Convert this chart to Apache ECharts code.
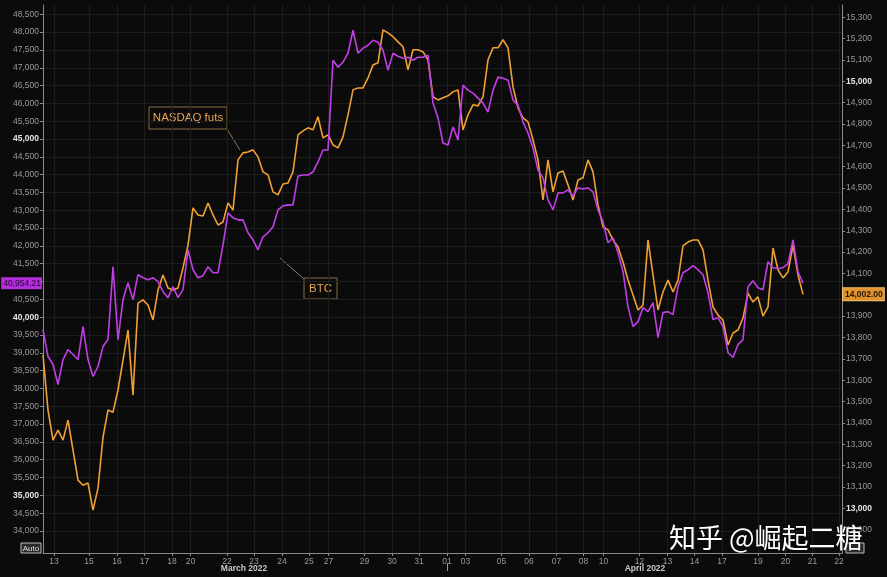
<!DOCTYPE html>
<html>
<head>
<meta charset="utf-8">
<script src="https://cdn.jsdelivr.net/npm/echarts@6/dist/echarts.min.js"></script>
<style>
  html, body { margin: 0; padding: 0; background: #0b0b0b; }
  #chart { width: 887px; height: 577px; }
</style>
</head>
<body>
<div id="chart"></div>
<script>
// ---- data (x = sample index, evenly spaced along the trading-time axis) ----
const btc = [39652,38896,38672,38112,38812,39092,38952,38812,39736,38812,38336,38616,39176,39372,41416,39372,40492,40968,40492,41192,
41108,41052,41108,40996,40716,40548,40856,40548,40772,41892,41332,41108,41164,41416,41248,41248,42032,42928,42788,42732,
42732,42368,42172,41892,42256,42368,42536,43012,43124,43152,43152,43964,43992,43992,44076,44356,44692,44692,47212,47016,
47156,47408,48052,47408,47548,47632,47772,47716,47492,46932,47408,47324,47268,47296,47212,47296,47296,47352,46008,45588,
44888,44832,45336,44972,46512,46372,46288,46148,46008,45756,46372,46736,46708,46652,46092,45952,45476,45168,44748,44132,
43908,43292,43012,43488,43488,43572,43404,43628,43600,43628,43516,43012,42676,42088,42228,41808,41276,40296,39736,39876,
40268,40156,40408,39428,40128,40156,40072,40856,41248,41332,41444,41332,41192,40688,39932,39988,39736,39008,38868,39232,
39372,40856,41024,40828,40772,41556,41388,41360,41388,41500,42172,41276,40954];
const nasdaq = [13718,13460,13319,13366,13319,13413,13272,13132,13108,13118,12991,13094,13333,13460,13450,13554,13694,13835,13530,13961,
13976,13952,13882,14022,14093,14032,14022,14032,14126,14233,14407,14374,14369,14430,14374,14327,14341,14430,14397,14632,
14665,14669,14679,14646,14576,14562,14482,14468,14519,14524,14576,14749,14768,14782,14773,14834,14735,14749,14702,14688,
14740,14843,14960,14969,14969,15016,15077,15087,15241,15227,15209,15185,15162,15054,15148,15148,15138,15101,14927,14913,
14923,14932,14951,14960,14773,14843,14890,14885,14927,15101,15157,15157,15195,15157,14974,14876,14829,14810,14726,14632,
14444,14632,14482,14571,14580,14515,14444,14538,14548,14632,14576,14421,14318,14304,14257,14224,14154,14069,13999,13929,
13952,14257,14093,13929,14013,14069,14013,14069,14229,14247,14257,14257,14210,14069,13943,13905,13882,13765,13821,13835,
13891,14008,13966,13990,13900,13943,14219,14116,14079,14107,14233,14093,14002];
const btcLast = 40954.21;
const nasdaqLast = 14002.00;

// ---- x-axis day ticks (position in sample index units) ----
const dayLabels = ['13','15','16','17','18','20','22','23','24','25','27','29','30','31','01','03','05','06','07','08','10','12','13','14','17','19','20','21','22'];
const dayPos = [2.2,9.2,14.8,20.3,25.8,29.5,36.8,42.2,47.8,53.2,57.1,64.3,69.8,75.2,80.8,84.5,91.7,97.2,102.7,108.1,112.1,119.3,124.9,130.3,135.8,143.0,148.5,153.9,159.2];
const monthLabels = ['March 2022', 'April 2022'];
const monthPos = [40.2, 120.4];
const monthBreak = [80.8];

// ---- y-axis scales ----
const btcMin = 34000, btcMax = 48500, btcStep = 500;
const ndqMin = 12900, ndqMax = 15300, ndqStep = 100;

const fmt = v => Math.round(v).toString().replace(/\B(?=(\d{3})+(?!\d))/g, ',');
const fmt2 = v => v.toFixed(2).replace(/\B(?=(\d{3})+(?!\d))/g, ',');
const FONT = '"Liberation Sans", Arial, sans-serif';
const AX = '#8a8a8a';
const XMAX = 159.8;

const chart = echarts.init(document.getElementById('chart'));
chart.setOption({
  backgroundColor: '#0b0b0b',
  animation: false,
  grid: [
    { left: 43, right: 45, top: 5, bottom: 24, containLabel: false },      // frame + date axis
    { left: 43, right: 45, top: 17.3, bottom: 47.4, containLabel: false }, // NASDAQ 15,300 .. 12,900
    { left: 43, right: 45, top: 14.3, bottom: 46, containLabel: false }    // BTC 48,500 .. 34,000
  ],
  xAxis: [{
    gridIndex: 0, type: 'value', min: 0, max: XMAX,
    axisLine: { show: true, onZero: false, lineStyle: { color: AX, width: 1 } },
    axisTick: { show: true, customValues: dayPos, length: 3, lineStyle: { color: AX } },
    axisLabel: {
      customValues: dayPos, margin: 4, color: '#9a9a9a', fontSize: 8.5, fontFamily: FONT,
      formatter: v => {
        let best = 0, bd = 1e9;
        dayPos.forEach((p, i) => { const d = Math.abs(p - v); if (d < bd) { bd = d; best = i; } });
        return dayLabels[best];
      }
    },
    splitLine: { show: true, lineStyle: { color: '#1d1d1d', width: 1 } }
  }, {
    gridIndex: 0, type: 'value', min: 0, max: XMAX, position: 'bottom', offset: 10,
    axisLine: { show: false, onZero: false },
    axisTick: { show: true, customValues: monthBreak, length: 8, lineStyle: { color: '#9a9a9a' } },
    axisLabel: {
      customValues: monthPos, margin: 1, color: '#c8c8c8', fontSize: 8.5, fontWeight: 'bold', fontFamily: FONT,
      formatter: v => monthLabels[Math.abs(v - monthPos[0]) < 1 ? 0 : 1]
    },
    splitLine: { show: false }
  }, {
    gridIndex: 1, type: 'value', min: 0, max: XMAX, show: false, axisLine: { onZero: false }
  }, {
    gridIndex: 2, type: 'value', min: 0, max: XMAX, show: false, axisLine: { onZero: false }
  }],
  yAxis: [{
    // left frame line
    gridIndex: 0, type: 'value', position: 'left', min: 0, max: 1,
    axisLine: { show: true, onZero: false, lineStyle: { color: AX, width: 1 } },
    axisTick: { show: false }, axisLabel: { show: false }, splitLine: { show: false }
  }, {
    // right frame line
    gridIndex: 0, type: 'value', position: 'right', min: 0, max: 1,
    axisLine: { show: true, onZero: false, lineStyle: { color: AX, width: 1 } },
    axisTick: { show: false }, axisLabel: { show: false }, splitLine: { show: false }
  }, {
    gridIndex: 1, type: 'value', position: 'right', min: ndqMin, max: ndqMax, interval: ndqStep,
    axisLine: { show: false, onZero: false },
    axisTick: { show: true, length: 3, lineStyle: { color: AX } },
    axisLabel: {
      showMinLabel: true, showMaxLabel: true, margin: 4, color: '#9a9a9a', fontSize: 8.5, fontFamily: FONT,
      formatter: v => (v % 1000 === 0 ? '{b|' + fmt(v) + '}' : fmt(v)),
      rich: { b: { color: '#e6e6e6', fontWeight: 'bold', fontSize: 8.5, fontFamily: FONT } }
    },
    splitLine: { show: false }
  }, {
    gridIndex: 2, type: 'value', position: 'left', min: btcMin, max: btcMax, interval: btcStep,
    axisLine: { show: false, onZero: false },
    axisTick: { show: true, length: 3, lineStyle: { color: AX } },
    axisLabel: {
      showMinLabel: true, showMaxLabel: true, margin: 4, color: '#9a9a9a', fontSize: 8.5, fontFamily: FONT,
      formatter: v => (v % 5000 === 0 ? '{b|' + fmt(v) + '}' : fmt(v)),
      rich: { b: { color: '#e6e6e6', fontWeight: 'bold', fontSize: 8.5, fontFamily: FONT } }
    },
    splitLine: { show: true, lineStyle: { color: '#1d1d1d', width: 1 } }
  }],
  series: [{
    name: 'NASDAQ futs', type: 'line', xAxisIndex: 2, yAxisIndex: 2,
    data: nasdaq.map((v, i) => [i, v]),
    showSymbol: false, symbol: 'none', clip: false,
    lineStyle: { color: '#f0a035', width: 1.6 },
    z: 2,
    markLine: {
      silent: true, symbol: 'none', lineStyle: { color: 'rgba(0,0,0,0)', width: 1 },
      data: [{ yAxis: nasdaqLast }],
      label: {
        show: true, position: 'end', distance: 1, formatter: () => fmt2(nasdaqLast),
        backgroundColor: '#e0922e', borderColor: '#f3c070', borderWidth: 1,
        color: '#2a1400', fontSize: 8.5, fontWeight: 'bold', fontFamily: FONT, padding: [2, 1, 1, 2]
      }
    }
  }, {
    name: 'BTC', type: 'line', xAxisIndex: 3, yAxisIndex: 3,
    data: btc.map((v, i) => [i, v]),
    showSymbol: false, symbol: 'none', clip: false,
    lineStyle: { color: '#c23ee6', width: 1.6 },
    z: 3,
    markLine: {
      silent: true, symbol: 'none', lineStyle: { color: 'rgba(0,0,0,0)', width: 1 },
      data: [{ yAxis: btcLast }],
      label: {
        show: true, position: 'start', distance: 1, formatter: () => fmt2(btcLast),
        backgroundColor: '#b42fdc', color: '#2a0036', fontSize: 8.5, fontFamily: FONT, padding: [2, 1, 1, 2]
      }
    }
  }],
  graphic: [
    // NASDAQ annotation
    { type: 'line', shape: { x1: 227, y1: 129, x2: 240, y2: 150 }, style: { stroke: '#8a7a66', lineWidth: 1 } },
    { type: 'rect', shape: { x: 149, y: 107, width: 78, height: 22 }, style: { fill: '#0b0b0b', stroke: '#8a6c45', lineWidth: 1 } },
    { type: 'text', x: 188, y: 118, style: { text: 'NASDAQ futs', fill: '#eaa352', fontSize: 11.5, fontFamily: FONT, align: 'center', verticalAlign: 'middle' } },
    // BTC annotation
    { type: 'line', shape: { x1: 280, y1: 258, x2: 304, y2: 279 }, style: { stroke: '#8a7a66', lineWidth: 1 } },
    { type: 'rect', shape: { x: 304, y: 278, width: 33, height: 21 }, style: { fill: '#0b0b0b', stroke: '#8a6c45', lineWidth: 1 } },
    { type: 'text', x: 320.5, y: 289, style: { text: 'BTC', fill: '#eaa352', fontSize: 11.5, fontFamily: FONT, align: 'center', verticalAlign: 'middle' } },
    // Auto boxes
    { type: 'rect', shape: { x: 21, y: 543, width: 20, height: 10 }, style: { fill: '#2a2a2a', stroke: '#bbbbbb', lineWidth: 1 } },
    { type: 'text', x: 31, y: 548.5, style: { text: 'Auto', fill: '#e0e0e0', fontSize: 8, fontFamily: FONT, align: 'center', verticalAlign: 'middle' } },
    { type: 'rect', shape: { x: 846, y: 543, width: 18, height: 10 }, style: { fill: '#2a2a2a', stroke: '#bbbbbb', lineWidth: 1 } },
    // watermark
    { type: 'text', x: 669, y: 538, z: 100, style: { text: '知乎 @崛起二糖', fill: '#ffffff', fontSize: 27, fontFamily: '"Noto Sans CJK SC", sans-serif', align: 'left', verticalAlign: 'middle', textShadowColor: 'rgba(0,0,0,0.6)', textShadowBlur: 2 } }
  ]
});
</script>
</body>
</html>
